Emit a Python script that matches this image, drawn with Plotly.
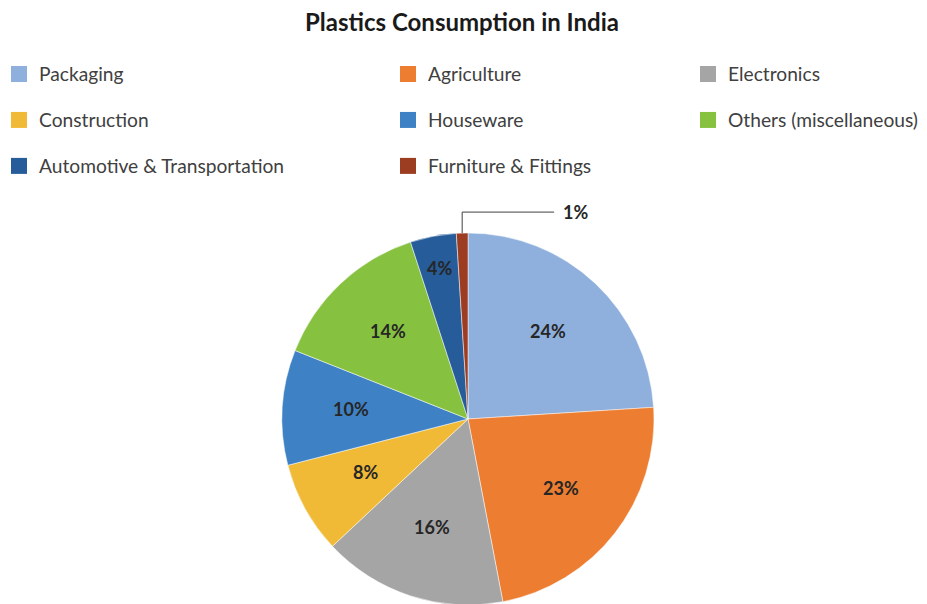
import math
import plotly.graph_objects as go

title_text = "Plastics Consumption in India"
categories = ["Packaging", "Agriculture", "Electronics", "Construction", "Houseware",
              "Others (miscellaneous)", "Automotive & Transportation", "Furniture & Fittings"]
values = [24, 23, 16, 8, 10, 14, 4, 1]
colors = ["#8FAFDC", "#ED7D31", "#A5A5A5", "#F0BA36", "#3E82C5", "#86C23F", "#255C99", "#9C3D21"]
legend_columns = [[0, 3, 6], [1, 4, 7], [2, 5]]

# figure is drawn inside the page's default 8px body margin
FW, FH = 927, 604
FONT = "Lato"

# pie geometry in figure pixels (margins 0)
CX, CY, R = 460, 411, 186
dom_x = [(CX - R) / FW, (CX + R) / FW]
dom_y = [1 - (CY + R) / FH, 1 - (CY - R) / FH]

fig = go.Figure()
fig.add_trace(go.Pie(
    labels=categories, values=values, sort=False, direction="clockwise", rotation=0,
    marker=dict(colors=colors, line=dict(color="white", width=0.5)),
    textinfo="none", showlegend=False, domain=dict(x=dom_x, y=dom_y),
    hoverinfo="label+percent",
))

# legend entries (one dummy trace per category, three column legends)
legend_names = ["legend", "legend2", "legend3"]
for col, idxs in enumerate(legend_columns):
    for i in idxs:
        fig.add_trace(go.Scatter(
            x=[None], y=[None], mode="markers", name=categories[i],
            marker=dict(symbol="square", size=19, color=colors[i]),
            legend=legend_names[col], legendgroup=categories[i], showlegend=True,
        ))

legend_px = [-9, 380, 680]
leg_common = dict(y=1 - 47 / FH, yanchor="top", xanchor="left", orientation="v",
                  tracegroupgap=18, bgcolor="rgba(0,0,0,0)",
                  font=dict(family=FONT, size=19.2, color="#404040"))
fig.update_layout(
    legend=dict(x=legend_px[0] / FW, **leg_common),
    legend2=dict(x=legend_px[1] / FW, **leg_common),
    legend3=dict(x=legend_px[2] / FW, **leg_common),
)

# percentage labels placed from the slice angles
label_font = dict(family=FONT, size=18, color="#262626", weight="bold")
total = sum(values)
cum = 0
for i, v in enumerate(values):
    share = v / total
    ang = 2 * math.pi * (cum + v / 2) / total
    txt = f"{round(100 * share)}%"
    if share < 0.02:
        # outside label with elbow leader line
        px = CX + R * math.sin(ang)
        py = CY - R * math.cos(ang)
        y_elb = py - 21
        x_end = px + 92
        fig.add_shape(type="path", xref="paper", yref="paper",
                      path=f"M {px / FW},{1 - py / FH} L {px / FW},{1 - y_elb / FH} L {x_end / FW},{1 - y_elb / FH}",
                      line=dict(color="#404040", width=1))
        fig.add_annotation(x=(x_end + 7) / FW, y=1 - y_elb / FH, xref="paper", yref="paper",
                           text=txt, showarrow=False, xanchor="left", yanchor="middle",
                           font=label_font)
    else:
        d = R * (0.63 if share >= 0.05 else 0.81)
        lx = CX + d * math.sin(ang)
        ly = CY - d * math.cos(ang)
        fig.add_annotation(x=lx / FW, y=1 - ly / FH, xref="paper", yref="paper",
                           text=txt, showarrow=False, xanchor="center", yanchor="middle",
                           yshift=3, font=label_font)
    cum += v

fig.update_layout(
    width=FW, height=FH, margin=dict(l=0, r=0, t=0, b=0, autoexpand=False),
    paper_bgcolor="white", plot_bgcolor="white",
    title=dict(text=title_text, x=454 / FW, xanchor="center", y=1 - 6 / FH, yanchor="top",
               font=dict(family=FONT, size=24, color="#1A1A1A", weight="bold")),
    xaxis=dict(visible=False), yaxis=dict(visible=False),
)

fig.write_html("out.html")
